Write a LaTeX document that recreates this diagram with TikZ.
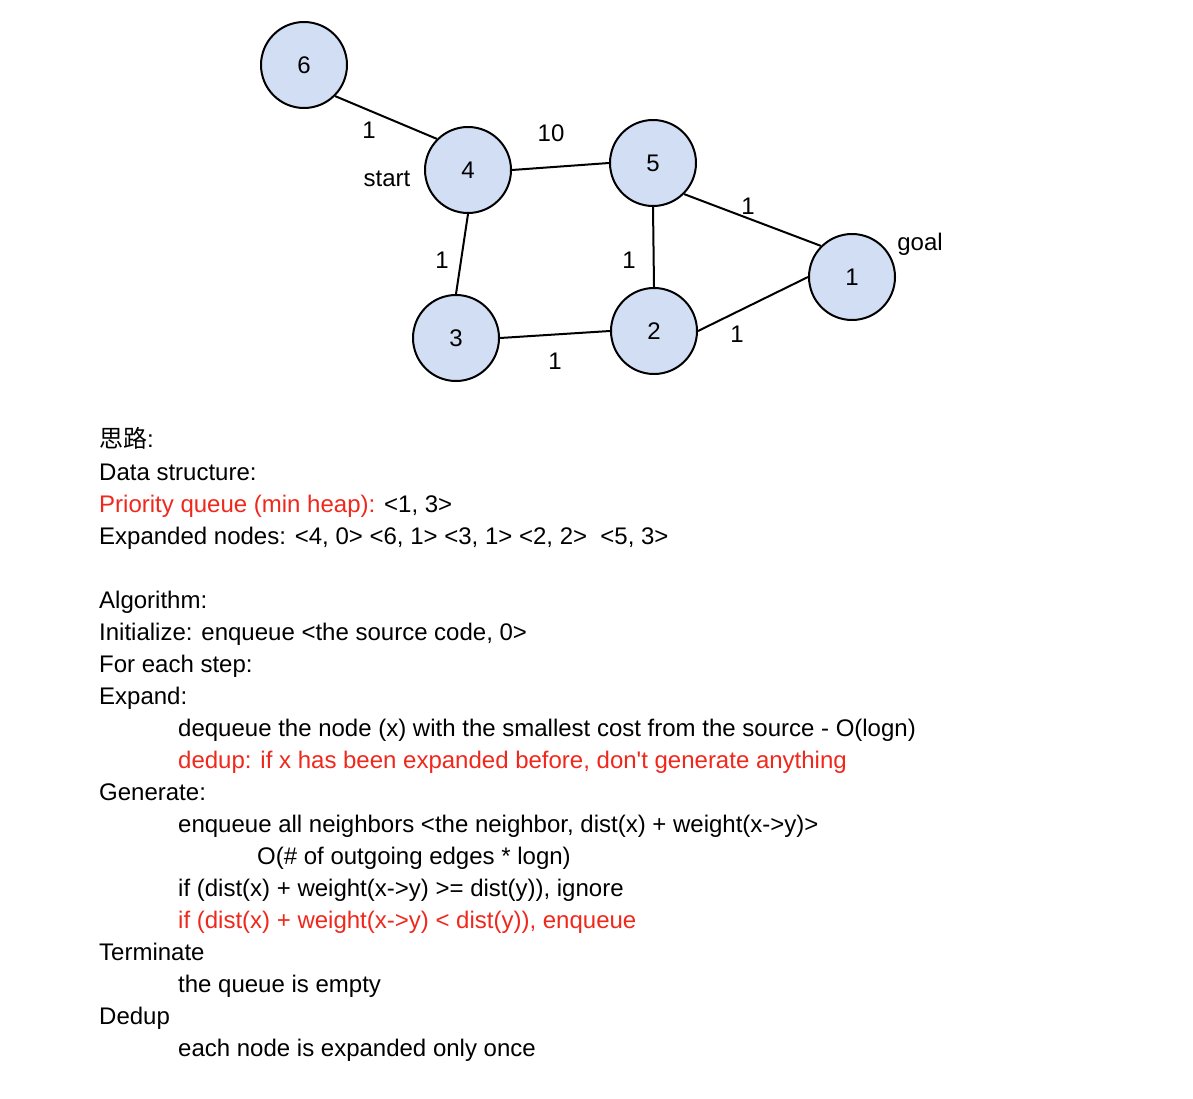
\documentclass[tikz,border=0pt]{standalone}
\usepackage{fontspec}
\setmainfont{Liberation Sans}[Ligatures=TeXOff]
\newfontfamily\cjk{Noto Sans CJK SC}
\definecolor{nodefill}{RGB}{210,222,244}
\definecolor{hilite}{RGB}{240,40,28}
\begin{document}
\begin{tikzpicture}[x=1pt,y=-1pt,
  vertex/.style={circle, draw=black, line width=2pt, fill=nodefill, minimum size=86pt, inner sep=0pt, font=\fontsize{24}{28}\selectfont},
  edge/.style={line width=2pt, black},
  wlabel/.style={inner sep=0pt, font=\fontsize{24}{28}\selectfont},
  txt/.style={anchor=base west, inner sep=0pt, font=\fontsize{24}{28}\selectfont},
  red/.style={text=hilite}]
\useasboundingbox (0,0) rectangle (1193,1099);
\fill[white] (0,0) rectangle (1193,1099);

% graph vertices
\node[vertex] (n6) at (304,65) {6};
\node[vertex] (n4) at (468,170) {4};
\node[vertex] (n5) at (653,163) {5};
\node[vertex] (n1) at (852,277) {1};
\node[vertex] (n3) at (456,338) {3};
\node[vertex] (n2) at (654,331) {2};

% weighted edges, attached at the circles' connection points
\draw[edge] (n6.-45) -- (n4.135);
\draw[edge] (n4.east) -- (n5.west);
\draw[edge] (n4.south) -- (n3.north);
\draw[edge] (n5.south) -- (n2.north);
\draw[edge] (n5.-45) -- (n1.135);
\draw[edge] (n3.east) -- (n2.west);
\draw[edge] (n2.east) -- (n1.west);

% edge weights and vertex tags
\node[wlabel] (w64) at (369,130) {1};
\node[wlabel] (w45) at (551,133) {10};
\node[wlabel] (w43) at (442,260) {1};
\node[wlabel] (w52) at (629,260) {1};
\node[wlabel] (w51) at (748,206) {1};
\node[wlabel] (w21) at (737,334) {1};
\node[wlabel] (w32) at (555,361) {1};
\node[wlabel] (tstart) at (387,179) {start};
\node[wlabel] (tgoal) at (920,244) {goal};

% notes
\node[txt] (l1) at (99,447) {{\cjk 思路}:};
\node[txt] (l2) at (99,480) {Data structure:};
\node[txt] (l3) at (99,512) {\textcolor{hilite}{Priority queue (min heap):} <1, 3>};
\node[txt] (l4) at (99,544) {Expanded nodes: <4, 0> <6, 1> <3, 1> <2, 2>\ \ <5, 3>};
\node[txt] (l5) at (99,608) {Algorithm:};
\node[txt] (l6) at (99,640) {Initialize: enqueue <the source code, 0>};
\node[txt] (l7) at (99,672) {For each step:};
\node[txt] (l8) at (99,704) {Expand:};
\node[txt] (l9) at (178,736) {dequeue the node (x) with the smallest cost from the source - O(logn)};
\node[txt,red] (l10) at (178,768) {dedup: if x has been expanded before, don't generate anything};
\node[txt] (l11) at (99,800) {Generate:};
\node[txt] (l12) at (178,832) {enqueue all neighbors <the neighbor, dist(x) + weight(x->y)>};
\node[txt] (l13) at (257,864) {O(\# of outgoing edges * logn)};
\node[txt] (l14) at (178,896) {if (dist(x) + weight(x->y) >= dist(y)), ignore};
\node[txt,red] (l15) at (178,928) {if (dist(x) + weight(x->y) < dist(y)), enqueue};
\node[txt] (l16) at (99,960) {Terminate};
\node[txt] (l17) at (178,992) {the queue is empty};
\node[txt] (l18) at (99,1024) {Dedup};
\node[txt] (l19) at (178,1056) {each node is expanded only once};
\end{tikzpicture}
\end{document}
